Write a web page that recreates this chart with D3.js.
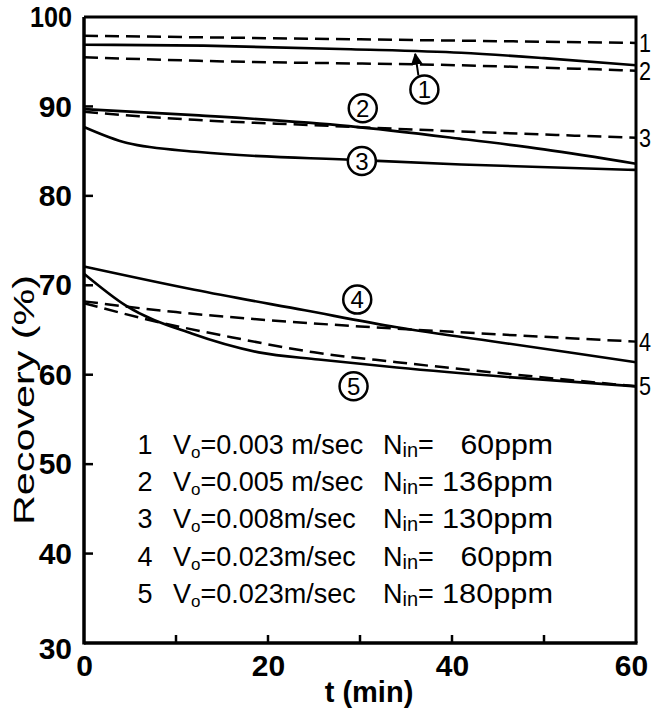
<!DOCTYPE html>
<html>
<head>
<meta charset="utf-8">
<script src="https://cdn.jsdelivr.net/npm/d3@7/dist/d3.min.js"></script>
<style>
body { margin: 0; background: #fff; }
svg { display: block; }
text { font-family: "Liberation Sans", Arial, sans-serif; fill: #000; }
</style>
</head>
<body>
<svg width="652" height="718"></svg>
<script>
// values: t in min, recovery in %
// solid = measured curves (circled numbers), dashed = calculated (numbers on right edge)
let solidT1 = [0, 13, 29, 41, 50, 60];
let solidV1 = [96.9, 96.8, 96.4, 96.0, 95.4, 94.6];
let solidT2 = [0, 12.5, 28.8, 40.8, 50, 60];
let solidV2 = [89.7, 89.0, 87.8, 86.4, 85.2, 83.6];
let solidT3 = [0, 4.7, 12.5, 30, 41, 60];
let solidV3 = [87.7, 85.9, 84.9, 84.0, 83.5, 82.9];
let solidT4 = [0, 12, 24, 34, 46, 60];
let solidV4 = [72.1, 69.5, 67.2, 65.3, 63.5, 61.4];
let solidT5 = [0, 4.6, 11.7, 19, 25.5, 34, 46.5, 60];
let solidV5 = [71.3, 67.7, 64.6, 62.5, 61.7, 60.8, 59.7, 58.7];

let dashT1 = [0, 30, 60];
let dashV1 = [97.9, 97.5, 97.1];
let dashT2 = [0, 12.5, 40.8, 60];
let dashV2 = [95.5, 95.1, 94.6, 94.0];
let dashT3 = [0, 6, 12, 25, 41, 60];
let dashV3 = [89.4, 88.9, 88.5, 87.9, 87.2, 86.5];
let dashT4 = [0, 10, 20, 30, 40, 60];
let dashV4 = [68.2, 67.0, 66.1, 65.4, 64.8, 63.7];
let dashT5 = [0, 8, 16, 25, 34, 46, 60];
let dashV5 = [68.0, 65.9, 64.2, 62.5, 61.4, 60.1, 58.7];

let seriesIds = ["1", "2", "3", "4", "5"];
// where the circled numbers sit (t, %)
let circleT = [37, 30.3, 30.2, 29.7, 29.3];
let circleV = [91.9, 89.8, 83.9, 68.4, 58.7];

let legendV = ["0.003 m/sec", "0.005 m/sec", "0.008m/sec", "0.023m/sec", "0.023m/sec"];
let legendN = ["60ppm", "136ppm", "130ppm", "60ppm", "180ppm"];

let xTickLabels = [0, 20, 40, 60];
let xTickMarks = [10, 20, 30, 40, 50];
let yTickLabels = [30, 40, 50, 60, 70, 80, 90, 100];
let yTickMarks = [40, 50, 60, 70, 80, 90];

let s = d3.select("svg");
let mLeft = 84, mRight = 636, mTop = 17, mBottom = 643;

let x = d3.scaleLinear().domain([0, 60]).range([mLeft, mRight]);
let y = d3.scaleLinear().domain([30, 100]).range([mBottom, mTop]);

let zip = (ts, vs) => ts.map((t, i) => [t, vs[i]]);
let solids = [zip(solidT1, solidV1), zip(solidT2, solidV2), zip(solidT3, solidV3), zip(solidT4, solidV4), zip(solidT5, solidV5)];
let dashes = [zip(dashT1, dashV1), zip(dashT2, dashV2), zip(dashT3, dashV3), zip(dashT4, dashV4), zip(dashT5, dashV5)];

let line = d3.line()
    .x(d => x(d[0]))
    .y(d => y(d[1]))
    .curve(d3.curveMonotoneX);

// tick labels
let yAxis = s.append("g")
    .attr("transform", "translate(" + mLeft + ",0)")
    .call(d3.axisLeft(y).tickValues(yTickLabels).tickSize(0).tickPadding(12).tickFormat(d3.format("d")));
let xAxis = s.append("g")
    .attr("transform", "translate(0," + mBottom + ")")
    .call(d3.axisBottom(x).tickValues(xTickLabels).tickSize(0).tickPadding(12).tickFormat(d3.format("d")));
s.selectAll(".domain").remove();
s.selectAll(".tick text")
    .attr("font-family", "Liberation Sans, Arial, sans-serif")
    .attr("font-size", 30)
    .attr("font-weight", "bold");
yAxis.selectAll(".tick text").filter(d => d === 100).attr("textLength", 42).attr("lengthAdjust", "spacingAndGlyphs");
yAxis.selectAll(".tick text").filter(d => d === 30).attr("dy", "0.5em");
xAxis.selectAll(".tick text").filter(d => d === 60).attr("dx", -5);

// inner tick marks
s.append("g").selectAll("line")
    .data(yTickMarks)
    .join("line")
    .attr("x1", mLeft).attr("x2", mLeft + 9)
    .attr("y1", d => y(d)).attr("y2", d => y(d))
    .attr("stroke", "#000").attr("stroke-width", 2.5);
s.append("g").selectAll("line")
    .data(xTickMarks)
    .join("line")
    .attr("x1", d => x(d)).attr("x2", d => x(d))
    .attr("y1", mBottom).attr("y2", mBottom - 8)
    .attr("stroke", "#000").attr("stroke-width", 2.5);

// curves
s.append("g").selectAll("path")
    .data(dashes)
    .join("path")
    .attr("d", line)
    .attr("fill", "none")
    .attr("stroke", "#000")
    .attr("stroke-width", 2.5)
    .attr("stroke-dasharray", "14,7");
s.append("g").selectAll("path")
    .data(solids)
    .join("path")
    .attr("d", line)
    .attr("fill", "none")
    .attr("stroke", "#000")
    .attr("stroke-width", 2.6);

// frame
s.append("path")
    .attr("d", "M" + mLeft + "," + mTop + "H" + mRight + "V" + mBottom)
    .attr("fill", "none").attr("stroke", "#000").attr("stroke-width", 3);
s.append("line")
    .attr("x1", mLeft).attr("x2", mLeft).attr("y1", mTop).attr("y2", mBottom + 1.5)
    .attr("stroke", "#000").attr("stroke-width", 3.5);
s.append("line")
    .attr("x1", mLeft).attr("x2", mRight + 1.5).attr("y1", mBottom).attr("y2", mBottom)
    .attr("stroke", "#000").attr("stroke-width", 3.5);

// numbers at right end of dashed lines
s.append("g").selectAll("text")
    .data(dashes)
    .join("text")
    .attr("x", mRight + 3)
    .attr("y", d => y(d[d.length - 1][1]))
    .attr("dy", "0.36em")
    .attr("font-size", 25)
    .attr("textLength", 12)
    .attr("lengthAdjust", "spacingAndGlyphs")
    .text((d, i) => seriesIds[i]);

// arrow from circled 1 to its curve
s.append("defs").append("marker")
    .attr("id", "head")
    .attr("viewBox", "0 0 10 10")
    .attr("refX", 9).attr("refY", 5)
    .attr("markerWidth", 6).attr("markerHeight", 6)
    .attr("orient", "auto")
    .append("path").attr("d", "M0,0L10,5L0,10z").attr("fill", "#000");
s.append("line")
    .attr("x1", x(circleT[0]) - 6).attr("y1", y(circleV[0]) - 14)
    .attr("x2", x(36)).attr("y2", y(96.1) + 2)
    .attr("stroke", "#000").attr("stroke-width", 2)
    .attr("marker-end", "url(#head)");

// circled numbers
let circ = s.append("g").selectAll("g")
    .data(seriesIds)
    .join("g")
    .attr("transform", (d, i) => "translate(" + x(circleT[i]) + "," + y(circleV[i]) + ")");
circ.append("circle")
    .attr("r", 14)
    .attr("fill", "#fff")
    .attr("stroke", "#000")
    .attr("stroke-width", 2.5);
circ.append("text")
    .attr("text-anchor", "middle")
    .attr("dy", "0.36em")
    .attr("font-size", 24)
    .text(d => d);

// legend
let rowY = [444, 481, 518, 556, 593];
let leg = s.append("g").selectAll("g")
    .data(seriesIds)
    .join("g")
    .attr("transform", (d, i) => "translate(0," + rowY[i] + ")");
leg.append("text")
    .attr("x", 145).attr("dy", "0.36em")
    .attr("text-anchor", "middle")
    .attr("font-size", 27)
    .text(d => d);
let vt = leg.append("text")
    .attr("x", 173).attr("dy", "0.36em")
    .attr("font-size", 27);
vt.append("tspan").text("V");
vt.append("tspan").attr("font-size", 17).attr("dy", 4).text("o");
vt.append("tspan").attr("dy", -4).text((d, i) => "=" + legendV[i]);
let nt = leg.append("text")
    .attr("x", 383).attr("dy", "0.36em")
    .attr("font-size", 27);
nt.append("tspan").text("N");
nt.append("tspan").attr("font-size", 20).attr("dy", 3).text("in");
nt.append("tspan").attr("dy", -3).text("=");
leg.append("text")
    .attr("x", 553).attr("dy", "0.36em")
    .attr("text-anchor", "end")
    .attr("font-size", 28)
    .attr("textLength", (d, i) => legendN[i].length * 18.5)
    .attr("lengthAdjust", "spacingAndGlyphs")
    .text((d, i) => legendN[i]);

// axis titles
s.append("text")
    .attr("transform", "translate(23,400) rotate(-90)")
    .attr("text-anchor", "middle")
    .attr("dy", "0.36em")
    .attr("font-size", 30)
    .attr("textLength", 250)
    .attr("lengthAdjust", "spacingAndGlyphs")
    .text("Recovery  (%)");
s.append("text")
    .attr("x", 369).attr("y", 702)
    .attr("text-anchor", "middle")
    .attr("font-size", 29)
    .attr("font-weight", "bold")
    .text("t (min)");
</script>
</body>
</html>
